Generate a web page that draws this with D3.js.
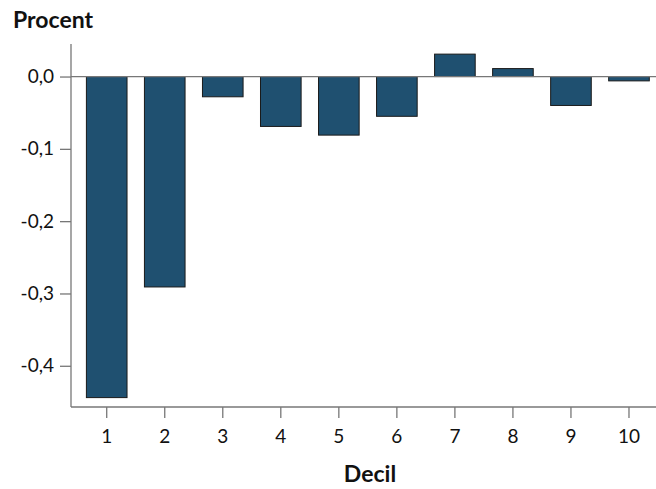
<!DOCTYPE html>
<html>
<head>
<meta charset="utf-8">
<script src="https://cdn.jsdelivr.net/npm/d3@7"></script>
<style>
  body { margin: 0; background: #fff; }
  text { font-family: Lato, "Open Sans", sans-serif; fill: #111; }
</style>
</head>
<body>
<script>
var deciles = ["1", "2", "3", "4", "5", "6", "7", "8", "9", "10"];
var values = [-0.444, -0.291, -0.028, -0.069, -0.081, -0.055, 0.031, 0.011, -0.040, -0.006];
var yTicks = [0, -0.1, -0.2, -0.3, -0.4];

var w = 656, h = 489;
var svg = d3.select("body").append("svg").attr("width", w).attr("height", h);

var x = d3.scaleBand().domain(deciles).range([77.7, 658]).paddingInner(0.3).paddingOuter(0.15);
var y = d3.scaleLinear().domain([-0.457, 0.045]).range([407, 44]);

// bars
svg.selectAll("rect.bar").data(values).enter().append("rect")
  .attr("class", "bar")
  .attr("x", function(d, i) { return x(deciles[i]); })
  .attr("width", x.bandwidth())
  .attr("y", function(d) { return y(Math.max(0, d)); })
  .attr("height", function(d) { return Math.abs(y(d) - y(0)); })
  .attr("fill", "#1f5070")
  .attr("stroke", "#1a1a1a")
  .attr("stroke-width", 1);

// zero line
svg.append("line")
  .attr("x1", 71).attr("x2", 656)
  .attr("y1", y(0)).attr("y2", y(0))
  .attr("stroke", "#777").attr("stroke-width", 1.3);

// y axis
var yAxis = d3.axisLeft(y).tickValues(yTicks).tickSize(11).tickPadding(6)
  .tickFormat(function(d) { return d3.format(".1f")(d).replace(".", ",").replace("−", "-"); });
var gy = svg.append("g").attr("transform", "translate(71,0)").call(yAxis);
gy.select(".domain").remove();
gy.append("line").attr("y1", 44).attr("y2", 407).attr("stroke", "#777").attr("stroke-width", 1.3);
gy.selectAll(".tick line").attr("stroke", "#777").attr("stroke-width", 1.3);
gy.selectAll(".tick text").style("font-size", "19px").attr("fill", "#111");

// x axis
var xAxis = d3.axisBottom(x).tickSize(11).tickPadding(12);
var gx = svg.append("g").attr("transform", "translate(0,407)").call(xAxis);
gx.select(".domain").remove();
gx.append("line").attr("x1", 71).attr("x2", 656).attr("stroke", "#777").attr("stroke-width", 1.3);
gx.selectAll(".tick line").attr("stroke", "#777").attr("stroke-width", 1.3);
gx.selectAll(".tick text").style("font-size", "19px").attr("fill", "#111");

// titles
svg.append("text").attr("x", 13).attr("y", 28)
  .style("font-size", "23px").style("font-weight", "bold").text("Procent");
svg.append("text").attr("x", 370).attr("y", 482).attr("text-anchor", "middle")
  .style("font-size", "23px").style("font-weight", "bold").text("Decil");
</script>
</body>
</html>
